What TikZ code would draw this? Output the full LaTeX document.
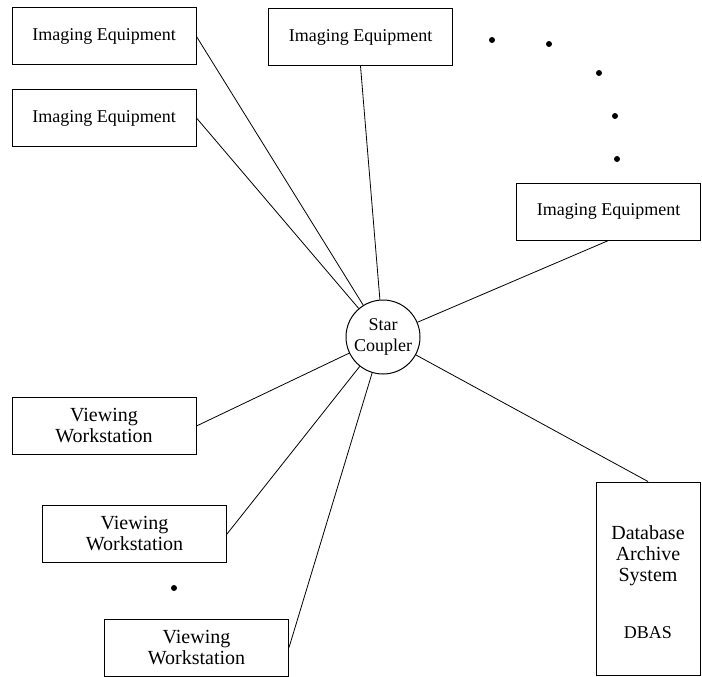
\documentclass[tikz,border=0pt]{standalone}
\usepackage{fontspec}
\setmainfont{Liberation Serif}
\usetikzlibrary{positioning}

\begin{document}
\begin{tikzpicture}[x=1pt,y=-1pt,line width=0.8pt,
		unit/.style={draw,rectangle,line width=1pt,minimum width=184pt,minimum height=57pt,inner sep=0pt,align=center},
		imaging/.style={unit,font=\fontsize{18}{21}\selectfont},
		viewing/.style={unit,font=\fontsize{20}{21}\selectfont},
		hub/.style={draw,circle,line width=1pt,minimum size=74pt,inner sep=0pt,align=center,font=\fontsize{18}{21}\selectfont}]
			\useasboundingbox (0,0) rectangle (702,677);
			\node[hub] (sc) at (383,337) {Star\\Coupler};
			\node[imaging] (ie1) at (104,36.5) {Imaging Equipment};
			\node[imaging] (ie2) at (104,118) {Imaging Equipment};
			\node[imaging] (ie3) at (360.5,37) {Imaging Equipment};
			\node[imaging] (ie4) at (608.5,211.5) {Imaging Equipment};
			\node[viewing] (vw1) at (104,426) {Viewing\\Workstation};
			\node[viewing] (vw2) at (134.5,534) {Viewing\\Workstation};
			\node[viewing] (vw3) at (196.5,647.5) {Viewing\\Workstation};
			\node[draw,rectangle,line width=1pt,minimum width=104pt,minimum height=193pt] (dbas) at (648,578.5) {};
			\node[align=center,font=\fontsize{20}{21}\selectfont] (dbas text) at (648,556) {Database\\Archive\\System};
			\node[font=\fontsize{18}{21}\selectfont] (dbas name) at (648,633) {DBAS};
			\path[draw]
			(sc) edge (ie1.east)
			edge (ie2.east)
			edge (ie3.south)
			edge (ie4.south)
			edge (vw1.east)
			edge (vw2.east)
			edge (vw3.east)
			edge (dbas.north);
			\foreach \p in {(492,40),(549,44),(599,73),(615,116),(617,159),(174,588)}
			\fill \p circle (3pt);
		\end{tikzpicture}
\end{document}
